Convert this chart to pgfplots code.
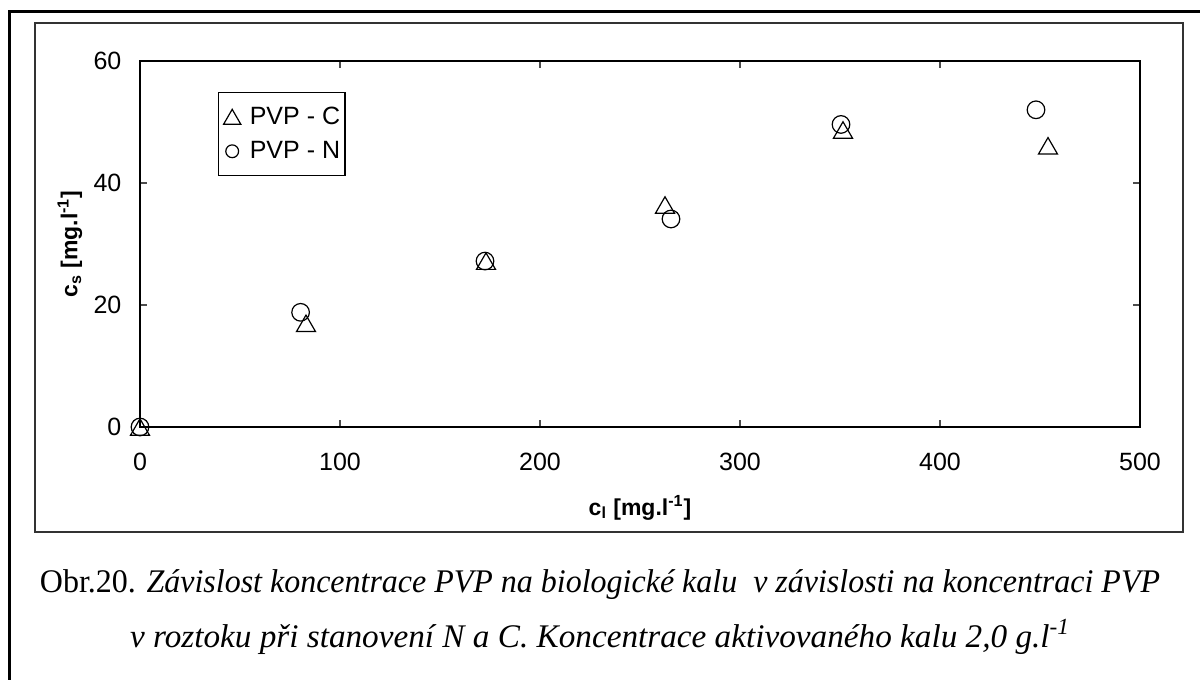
\documentclass[border=0pt]{standalone}
\usepackage{fontspec}
\setmainfont{Liberation Sans}
\newfontfamily\capfont{Liberation Serif}
\usepackage{graphicx}
\usepackage{pgfplots}
\pgfplotsset{compat=1.18}

\pgfplotstableread{
x y
0 0
83 17.0
173 27.2
262.5 36.4
351.5 48.7
454 46.1
}\pvpc
\pgfplotstableread{
x y
0 0
80.3 18.8
172.5 27.2
265.5 34.1
350.5 49.6
448 52.0
}\pvpn

\begin{document}
\begin{tikzpicture}
\path[use as bounding box] (0,0) rectangle (600pt,340pt);
\draw[line width=1.5pt] (4.5pt,-2pt) -- (4.5pt,334pt) -- (602pt,334pt);
\draw[line width=0.6pt, black!80] (17.5pt,74pt) rectangle (591.5pt,328.5pt);
\begin{axis}[
  at={(70pt,126.5pt)}, anchor=south west,
  scale only axis, width=500pt, height=183pt,
  xmin=0, xmax=500, ymin=0, ymax=60,
  xtick={0,100,...,500}, ytick={0,20,40,60},
  tick align=inside, major tick length=3.5pt,
  tick style={black!70, line width=0.6pt},
  axis line style={line width=0.6pt},
  tick label style={font=\fontsize{12.5}{14}\selectfont},
  /pgf/number format/assume math mode=true,
  xticklabel style={yshift=-9.4pt},
  yticklabel style={xshift=-5.8pt},
  xlabel={\textbf{c\textsubscript{l} [mg.l\textsuperscript{-1}]}},
  ylabel={\textbf{c\textsubscript{s} [mg.l\textsuperscript{-1}]}},
  label style={font=\fontsize{11.5}{13}\selectfont},
  xlabel style={at={(axis description cs:0.5,-0.221)}, anchor=center},
  ylabel style={at={(axis description cs:-0.07,0.5)}, anchor=center},
  legend style={at={(axis description cs:0.078,0.915)}, anchor=north west,
    draw=black, line width=0.6pt, font=\fontsize{12.5}{14}\selectfont,
    row sep=4pt, inner xsep=1pt, inner ysep=5.5pt,
    nodes={inner sep=1.5pt}},
  legend cell align=left,
]
\addplot[only marks, mark=triangle, mark size=5.5pt, line width=0.6pt,
  mark options={yshift=-1.4pt},
  legend image code/.code={%
    \path (0pt,0pt) (12.5pt,0pt);
    \draw[mark=triangle, mark size=5pt, line width=0.6pt, mark options={yshift=-1.2pt}]
      plot coordinates {(5.5pt,0pt)};}] table {\pvpc};
\addlegendentry{PVP - C}
\addplot[only marks, mark=o, mark size=4.4pt, line width=0.6pt,
  legend image code/.code={%
    \path (0pt,0pt) (12.5pt,0pt);
    \draw[mark=o, mark size=3.2pt, line width=0.6pt]
      plot coordinates {(5.5pt,0pt)};}] table {\pvpn};
\addlegendentry{PVP - N}
\end{axis}
\node[font=\capfont\fontsize{16.5}{18}\selectfont] at (300pt,47.5pt)
  {\resizebox{560pt}{\height}{Obr.20. \textit{Závislost koncentrace PVP na biologické kalu\ \ v závislosti na koncentraci PVP}}};
\node[font=\capfont\fontsize{16.5}{18}\selectfont] at (300pt,21.5pt)
  {\resizebox{470pt}{\height}{\textit{v roztoku při stanovení N a C. Koncentrace aktivovaného kalu 2,0 g.l\textsuperscript{-1}}}};
\end{tikzpicture}
\end{document}
